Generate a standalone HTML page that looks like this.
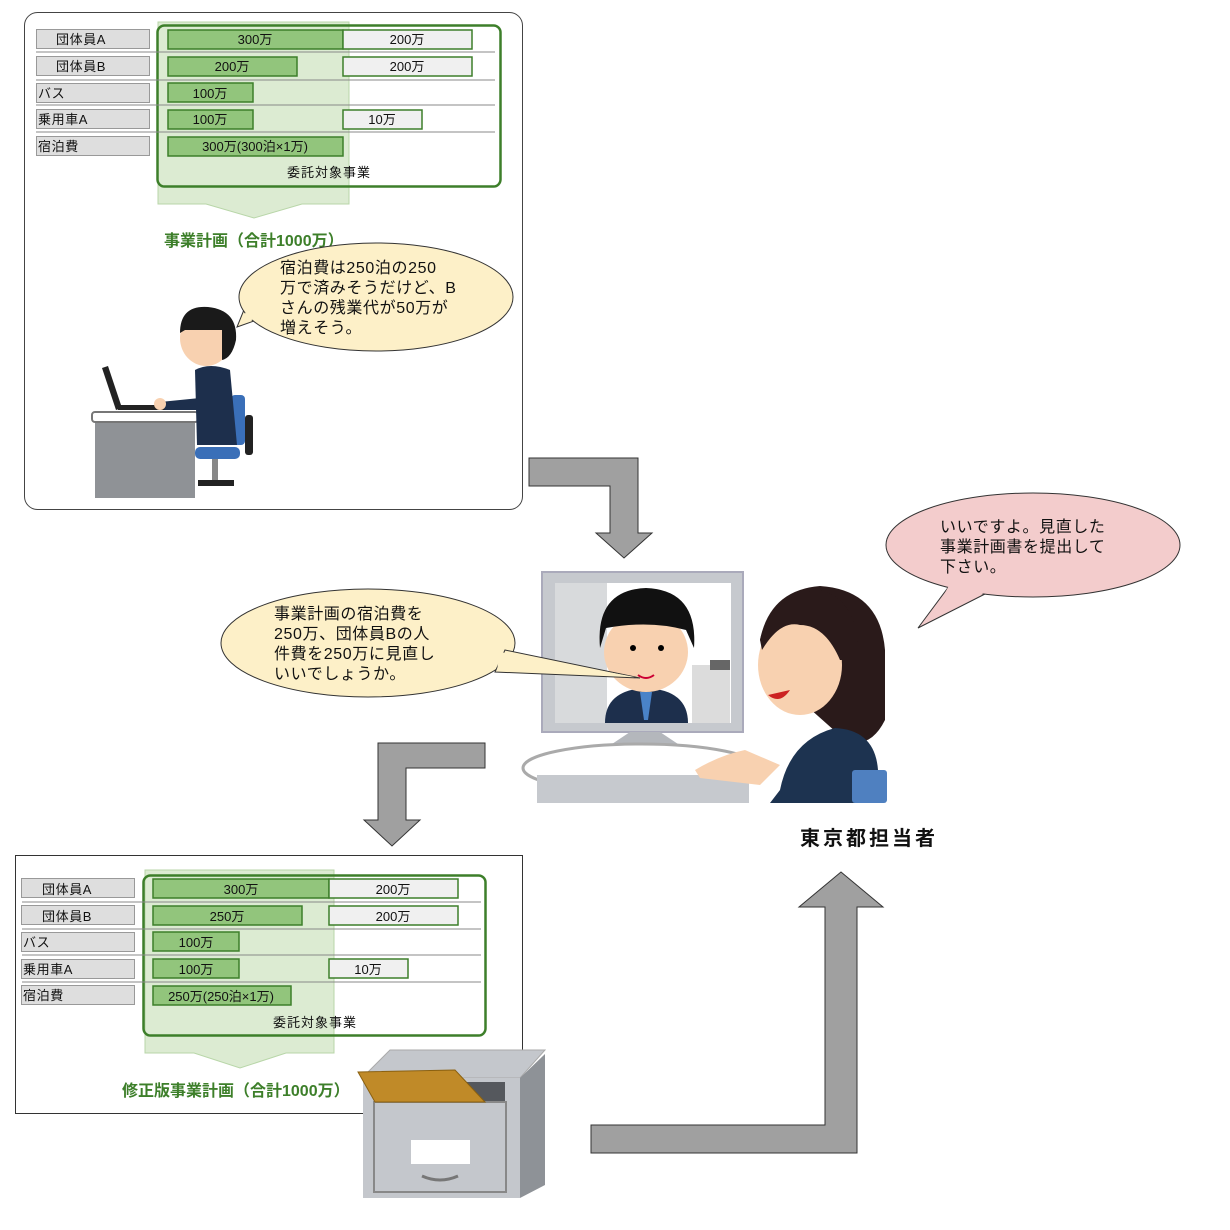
<!DOCTYPE html>
<html><head><meta charset="utf-8">
<style>
html,body{margin:0;padding:0;background:#fff;}
svg{display:block;}
text{font-family:"Liberation Sans","Noto Sans CJK JP",sans-serif;}
</style></head><body>
<svg width="1230" height="1230" viewBox="0 0 1230 1230" xmlns="http://www.w3.org/2000/svg">
<!-- TOP PANEL -->
<rect x="24.5" y="12.5" width="498" height="497" rx="13" fill="#fff" stroke="#444" stroke-width="1"/>
<polygon points="158,22 349,22 349,204 302,204 254,218 206,204 158,204" fill="#dcebd2" stroke="#b8d6a8" stroke-width="1"/>
<rect x="157.5" y="25.5" width="343" height="161" rx="7" fill="none" stroke="#3d7f2a" stroke-width="2.5"/>
<g stroke="#888" stroke-width="1"><line x1="36" y1="52" x2="495" y2="52"/><line x1="36" y1="80" x2="495" y2="80"/><line x1="36" y1="105" x2="495" y2="105"/><line x1="36" y1="132" x2="495" y2="132"/></g>
<g fill="#dedede" stroke="#999"><rect x="36.5" y="29.5" width="113" height="19"/><rect x="36.5" y="56.5" width="113" height="19"/><rect x="36.5" y="83.5" width="113" height="19"/><rect x="36.5" y="109.5" width="113" height="19"/><rect x="36.5" y="136.5" width="113" height="19"/></g>
<g font-size="13" fill="#111" letter-spacing="0.6"><text x="56" y="44">団体員A</text><text x="56" y="71">団体員B</text><text x="38" y="98">バス</text><text x="38" y="124">乗用車A</text><text x="38" y="151">宿泊費</text></g>
<g fill="#92c57c" stroke="#3d7f2a" stroke-width="1.5"><rect x="168" y="30" width="175" height="19"/><rect x="168" y="57" width="129" height="19"/><rect x="168" y="83" width="85" height="19"/><rect x="168" y="110" width="85" height="19"/><rect x="168" y="137" width="175" height="19"/></g>
<g fill="#f0f0f0" stroke="#3d7f2a" stroke-width="1.5"><rect x="343" y="30" width="129" height="19"/><rect x="343" y="57" width="129" height="19"/><rect x="343" y="110" width="79" height="19"/></g>
<g font-size="13" fill="#111" text-anchor="middle"><text x="255" y="44">300万</text><text x="407" y="44">200万</text><text x="232" y="71">200万</text><text x="407" y="71">200万</text><text x="210" y="98">100万</text><text x="210" y="124">100万</text><text x="382" y="124">10万</text><text x="255" y="151">300万(300泊×1万)</text><text x="329" y="177" letter-spacing="1">委託対象事業</text></g>
<text x="164" y="246" font-size="16" font-weight="bold" fill="#3d7f2a">事業計画（合計1000万）</text>
<!-- top bubble -->
<path d="M252,290 L237,327 L268,316 Z" fill="#fdf0c8" stroke="#333" stroke-width="1"/>
<ellipse cx="376" cy="297" rx="137" ry="54" fill="#fdf0c8" stroke="#333"/>
<path d="M255,288 L241,324 L272,312 Z" fill="#fdf0c8"/>
<g font-size="16" fill="#111" letter-spacing="0.6"><text x="280" y="273">宿泊費は250泊の250</text><text x="280" y="293">万で済みそうだけど、B</text><text x="280" y="313">さんの残業代が50万が</text><text x="280" y="333">増えそう。</text></g>
<!-- man at desk -->
<rect x="95" y="420" width="100" height="78" fill="#8f9296"/>
<rect x="92" y="412" width="106" height="10" rx="3" fill="#fff" stroke="#777" stroke-width="2"/>
<polygon points="102,368 108,366 122,408 116,410" fill="#222"/>
<rect x="118" y="405" width="52" height="5" fill="#222"/>
<rect x="231" y="395" width="14" height="50" rx="4" fill="#3a6fb8"/>
<rect x="245" y="415" width="8" height="40" rx="3" fill="#222"/>
<rect x="195" y="447" width="45" height="12" rx="5" fill="#3a6fb8"/>
<rect x="212" y="459" width="6" height="22" fill="#888"/>
<rect x="198" y="480" width="36" height="6" fill="#222"/>
<path d="M195,370 Q210,362 230,370 L237,445 L197,445 Z" fill="#1d2f4c"/>
<path d="M160,402 L200,398 L200,410 L165,410 Z" fill="#1d2f4c"/>
<circle cx="160" cy="404" r="6" fill="#f8d1b0"/>
<ellipse cx="206" cy="338" rx="26" ry="28" fill="#f8d1b0"/>
<path d="M180,333 Q180,305 208,307 Q238,310 236,340 Q232,358 222,360 L222,330 L185,330 Z" fill="#1a1a1a"/>
<!-- arrows -->
<polygon points="529,458 638,458 638,533 652,533 624,558 596,533 610,533 610,486 529,486" fill="#a0a0a0" stroke="#333"/>
<polygon points="485,743 378,743 378,820 364,820 392,846 420,820 406,820 406,768 485,768" fill="#a0a0a0" stroke="#333"/>
<polygon points="591,1125 591,1153 857,1153 857,907 883,907 841,872 799,907 825,907 825,1125" fill="#a0a0a0" stroke="#333"/>
<!-- pink bubble -->
<path d="M918,628 L950,585 L985,594 Z" fill="#f3cccc" stroke="#333"/>
<ellipse cx="1033" cy="545" rx="147" ry="52" fill="#f3cccc" stroke="#333"/>
<path d="M930,620 L952,580 L990,590 Z" fill="#f3cccc"/>
<g font-size="16" fill="#111" letter-spacing="0.6"><text x="940" y="532">いいですよ。見直した</text><text x="940" y="552">事業計画書を提出して</text><text x="940" y="572">下さい。</text></g>
<!-- monitor scene -->
<rect x="542" y="572" width="201" height="160" fill="#c6c9ce" stroke="#aab" stroke-width="2"/>
<rect x="555" y="583" width="176" height="140" fill="#fff"/>
<rect x="555" y="583" width="52" height="140" fill="#d8dadc"/>
<rect x="692" y="665" width="38" height="58" fill="#dcdcdc"/>
<rect x="710" y="660" width="20" height="10" fill="#666"/>
<path d="M605,723 Q605,690 646,688 Q688,690 688,723 Z" fill="#1d2f4c"/>
<polygon points="640,692 652,692 648,720 644,720" fill="#4a83c8"/>
<ellipse cx="646" cy="652" rx="42" ry="40" fill="#f8d1b0"/>
<path d="M600,648 Q595,590 646,588 Q698,590 694,648 L686,630 Q650,620 606,628 Z" fill="#111"/>
<circle cx="633" cy="648" r="3" fill="#000"/><circle cx="661" cy="648" r="3" fill="#000"/>
<path d="M638,675 Q646,681 654,675" stroke="#c03" stroke-width="2" fill="none"/>
<polygon points="630,732 660,732 690,752 600,752" fill="#b4b7bc"/>
<ellipse cx="641" cy="768" rx="118" ry="24" fill="#fff" stroke="#aaa" stroke-width="3"/>
<rect x="537" y="775" width="212" height="28" fill="#c6c9ce"/>
<path d="M760,640 Q770,590 820,586 Q880,590 885,650 L885,720 Q870,750 845,740 L800,700 Z" fill="#2a1a1a"/>
<ellipse cx="800" cy="665" rx="42" ry="50" fill="#f8d1b0"/>
<path d="M760,640 Q770,595 820,590 Q860,600 858,660 L840,660 Q825,625 800,625 Q780,620 762,650 Z" fill="#2a1a1a"/>
<path d="M768,695 Q780,705 790,690 Z" fill="#c22"/>
<path d="M780,790 Q790,740 835,728 Q875,730 878,770 L880,803 L770,803 Z" fill="#1d3350"/>
<rect x="852" y="770" width="35" height="33" rx="3" fill="#4f80c0"/>
<path d="M695,770 Q720,755 745,750 L780,765 L760,785 L700,778 Z" fill="#f8d1b0"/>
<!-- middle bubble -->
<ellipse cx="368" cy="643" rx="147" ry="54" fill="#fdf0c8" stroke="#333"/>
<path d="M505,650 L640,678 L495,672 Z" fill="#fdf0c8" stroke="#333"/>
<path d="M500,652 L635,677 L497,670 Z" fill="#fdf0c8"/>
<g font-size="16" fill="#111" letter-spacing="0.6"><text x="274" y="619">事業計画の宿泊費を</text><text x="274" y="639">250万、団体員Bの人</text><text x="274" y="659">件費を250万に見直し</text><text x="274" y="679">いいでしょうか。</text></g>
<text x="800" y="845" font-size="20" font-weight="bold" fill="#111" letter-spacing="3">東京都担当者</text>
<!-- BOTTOM PANEL -->
<rect x="15.5" y="855.5" width="507" height="258" fill="#fff" stroke="#333" stroke-width="1"/>
<polygon points="145,870 334,870 334,1053 286,1053 240,1068 194,1053 145,1053" fill="#dcebd2" stroke="#b8d6a8" stroke-width="1"/>
<rect x="143.5" y="875.5" width="342" height="160" rx="7" fill="none" stroke="#3d7f2a" stroke-width="2.5"/>
<g stroke="#888" stroke-width="1"><line x1="22" y1="902" x2="481" y2="902"/><line x1="22" y1="929" x2="481" y2="929"/><line x1="22" y1="955" x2="481" y2="955"/><line x1="22" y1="982" x2="481" y2="982"/></g>
<g fill="#dedede" stroke="#999"><rect x="21.5" y="878.5" width="113" height="19"/><rect x="21.5" y="905.5" width="113" height="19"/><rect x="21.5" y="932.5" width="113" height="19"/><rect x="21.5" y="959.5" width="113" height="19"/><rect x="21.5" y="985.5" width="113" height="19"/></g>
<g font-size="13" fill="#111" letter-spacing="0.6"><text x="42" y="894">団体員A</text><text x="42" y="921">団体員B</text><text x="23" y="947">バス</text><text x="23" y="974">乗用車A</text><text x="23" y="1000">宿泊費</text></g>
<g fill="#92c57c" stroke="#3d7f2a" stroke-width="1.5"><rect x="153" y="879" width="176" height="19"/><rect x="153" y="906" width="149" height="19"/><rect x="153" y="932" width="86" height="19"/><rect x="153" y="959" width="86" height="19"/><rect x="153" y="986" width="138" height="19"/></g>
<g fill="#f0f0f0" stroke="#3d7f2a" stroke-width="1.5"><rect x="329" y="879" width="129" height="19"/><rect x="329" y="906" width="129" height="19"/><rect x="329" y="959" width="79" height="19"/></g>
<g font-size="13" fill="#111" text-anchor="middle"><text x="241" y="894">300万</text><text x="393" y="894">200万</text><text x="227" y="921">250万</text><text x="393" y="921">200万</text><text x="196" y="947">100万</text><text x="196" y="974">100万</text><text x="368" y="974">10万</text><text x="221" y="1001">250万(250泊×1万)</text><text x="315" y="1027" letter-spacing="1">委託対象事業</text></g>
<text x="122" y="1096" font-size="16" font-weight="bold" fill="#3d7f2a">修正版事業計画（合計1000万）</text>
<!-- cabinet -->
<polygon points="362,1078 390,1050 545,1050 520,1078" fill="#c4c7cc" stroke="#aaa"/>
<polygon points="520,1078 545,1054 545,1185 520,1198" fill="#8e9297"/>
<rect x="363" y="1078" width="157" height="120" fill="#c4c7cc"/>
<rect x="375" y="1082" width="130" height="20" fill="#55585d"/>
<rect x="374" y="1102" width="132" height="90" fill="none" stroke="#888" stroke-width="2"/>
<rect x="411" y="1140" width="59" height="24" fill="#fff"/>
<path d="M422,1176 Q440,1184 458,1176" stroke="#777" stroke-width="3" fill="none"/>
<polygon points="358,1072 455,1070 485,1102 375,1102" fill="#c08a28" stroke="#8a6010"/>
</svg>
</body></html>
